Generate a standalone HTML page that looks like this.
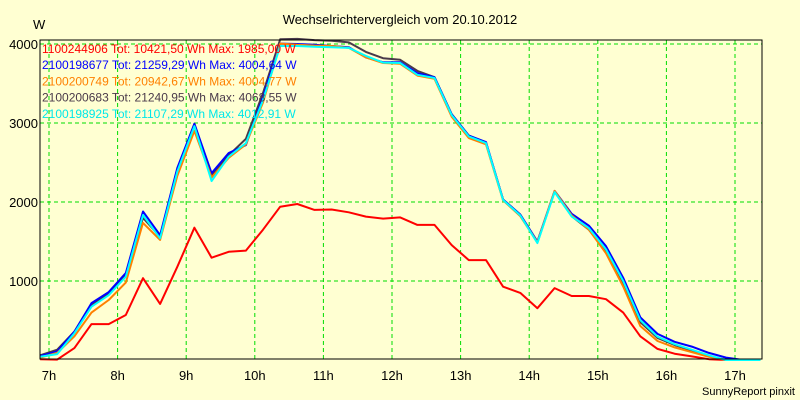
<!DOCTYPE html>
<html><head><meta charset="utf-8"><style>
body{margin:0;background:#FFFFD2;}
svg{display:block;font-family:"Liberation Sans",Arial,sans-serif;}
</style></head><body>
<svg id="chart" width="800" height="400" viewBox="0 0 800 400">
<rect x="0" y="0" width="800" height="400" fill="#FFFFD2"/>
<text x="400" y="24" text-anchor="middle" font-size="13">Wechselrichtervergleich vom 20.10.2012</text>
<text x="33" y="29" font-size="13">W</text>
<text x="795" y="395" text-anchor="end" font-size="11">SunnyReport pinxit</text>
<g id="grid"></g>
<g id="series"></g>
<g id="axes"></g>
<g id="legend"></g>
</svg>
<script>
const hourTicks = [7,8,9,10,11,12,13,14,15,16,17];
const hourLabels = ["7h","8h","9h","10h","11h","12h","13h","14h","15h","16h","17h"];
const yTicks = [1000,2000,3000,4000];
const startHour = 6.87;
const stepHours = 0.25;
const redVals = [10,5,150,455,455,570,1035,710,1180,1675,1295,1370,1385,1650,1940,1975,1900,1905,1870,1815,1790,1805,1710,1710,1455,1265,1265,928,850,656,910,810,810,770,600,300,140,80,45,10,0,0,0];
const cyanVals = [40,75,340,675,820,1055,1835,1540,2385,2960,2265,2575,2745,3290,3975,3975,3965,3960,3950,3850,3765,3760,3610,3570,3100,2830,2745,2025,1830,1480,2125,1815,1670,1400,1000,505,295,200,130,60,0,0,0];
const blueVals = [50,110,360,720,860,1100,1880,1580,2430,2990,2365,2620,2720,3330,4005,4000,3990,3975,3960,3830,3770,3770,3630,3580,3110,2840,2760,2030,1840,1500,2140,1850,1700,1440,1040,540,330,230,170,90,30,0,0];
const orangeVals = [30,90,300,600,760,980,1735,1520,2330,2900,2310,2560,2730,3260,4005,3990,3980,3975,3950,3830,3760,3750,3600,3560,3080,2810,2730,2020,1820,1490,2140,1830,1650,1350,930,430,240,160,100,40,0,0,0];
const blackVals = [60,130,360,700,840,1080,1800,1560,2400,2990,2330,2590,2800,3380,4060,4065,4050,4040,4020,3900,3820,3800,3660,3580,3110,2840,2750,2030,1840,1490,2130,1820,1650,1380,980,480,280,190,120,50,0,0,0];
const legendTexts = ["1100244906 Tot: 10421,50 Wh Max: 1985,00 W","2100198677 Tot: 21259,29 Wh Max: 4004,64 W","2100200749 Tot: 20942,67 Wh Max: 4004,77 W","2100200683 Tot: 21240,95 Wh Max: 4068,55 W","2100198925 Tot: 21107,29 Wh Max: 4012,91 W"];

const NS="http://www.w3.org/2000/svg";
const L=40,R=762,T=40,B=359;
function xScale(h){return 49+(h-7)*68.6;}
function yScale(v){return 360-v*0.079;}
function mk(tag,attrs,parent){const e=document.createElementNS(NS,tag);for(const k in attrs)e.setAttribute(k,attrs[k]);parent.appendChild(e);return e;}
const grid=document.getElementById('grid'),axes=document.getElementById('axes'),series=document.getElementById('series'),legend=document.getElementById('legend');
hourTicks.forEach((h,i)=>{
  const x=xScale(h);
  const gl=mk('line',{x1:x,x2:x,y1:T,y2:B,stroke:'#00DD00','stroke-width':1,'stroke-dasharray':'4,3'},grid);
  
  
  const t=mk('text',{x:x,y:380,'text-anchor':'middle','font-size':13},axes);
  t.textContent=hourLabels[i];
  
  
});
yTicks.forEach(v=>{
  const y=yScale(v);
  const gl=mk('line',{x1:L,x2:R,y1:y,y2:y,stroke:'#00DD00','stroke-width':1,'stroke-dasharray':'4,3'},grid);
  
  
  const t=mk('text',{x:38,y:y+5,'text-anchor':'end','font-size':13},axes);
  t.textContent=String(v);
  
  
});
const frame=mk('rect',{x:L,y:T,width:R-L,height:B-T,fill:'none',stroke:'#000','stroke-width':1},axes);


const seriesList=[[redVals,'#FF0000','series-red'],[blackVals,'#4A3A4A','series-dark'],[blueVals,'#0000FF','series-blue'],[orangeVals,'#FF8000','series-orange'],[cyanVals,'#00FFFF','series-cyan']];
seriesList.forEach(s=>{
  const pts=s[0].map((v,i)=>xScale(startHour+i*stepHours).toFixed(1)+','+yScale(v).toFixed(1)).join(' ');
  const p=mk('polyline',{points:pts,fill:'none',stroke:s[1],'stroke-width':2,'stroke-linejoin':'round'},series);
  
  
});
const legendColors=['#FF0000','#0000FF','#FF8000','#4A3A4A','#00E8E8'];
legendTexts.forEach((txt,i)=>{
  const t=mk('text',{x:42,y:53+i*16.2,'font-size':12,fill:legendColors[i]},legend);
  t.textContent=txt;
  
  
});
</script>
</body></html>
